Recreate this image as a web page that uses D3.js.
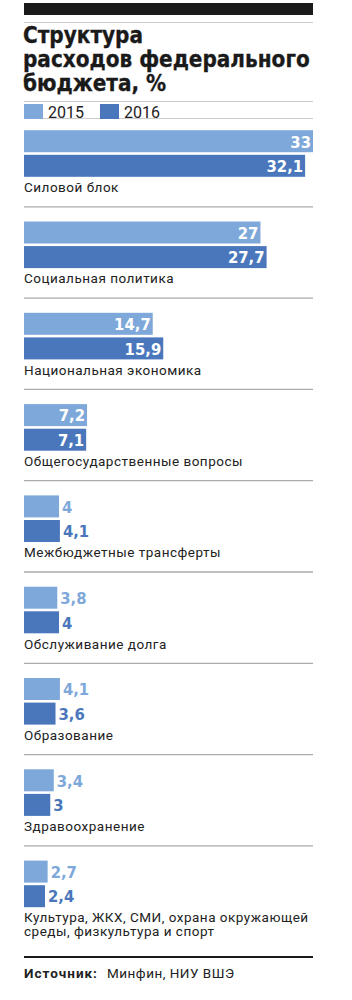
<!DOCTYPE html>
<html>
<head>
<meta charset="utf-8">
<script src="https://cdn.jsdelivr.net/npm/d3@7"></script>
<style>
  body { margin: 0; background: #fff; }
  svg { display: block; }
</style>
</head>
<body>
<script>
// данные
var categories = [
  ["Силовой блок"],
  ["Социальная политика"],
  ["Национальная экономика"],
  ["Общегосударственные вопросы"],
  ["Межбюджетные трансферты"],
  ["Обслуживание долга"],
  ["Образование"],
  ["Здравоохранение"],
  ["Культура, ЖКХ, СМИ, охрана окружающей", "среды, физкультура и спорт"]
];
var values2015 = [33, 27, 14.7, 7.2, 4, 3.8, 4.1, 3.4, 2.7];
var values2016 = [32.1, 27.7, 15.9, 7.1, 4.1, 4, 3.6, 3, 2.4];
var years = ["2015", "2016"];

var W = 352, H = 1000;
var left = 24, right = 313;
var light = "#7ea8da", dark = "#4a77bc";

var svg = d3.select("body").append("svg")
  .attr("width", W).attr("height", H);

// шапка
svg.append("rect").attr("x", left).attr("y", 3).attr("width", right - left).attr("height", 12).attr("fill", "#1a1a1a");
svg.append("line").attr("x1", left).attr("x2", right).attr("y1", 22.5).attr("y2", 22.5)
  .attr("stroke", "#ccc").attr("stroke-width", 1);

var titleLines = ["Структура", "расходов федерального", "бюджета, %"];
svg.selectAll(".title").data(titleLines).enter().append("text")
  .attr("class", "title")
  .attr("x", left - 1)
  .attr("y", function (d, i) { return 43 + i * 24.2; })
  .attr("font-family", "DejaVu Sans Condensed, DejaVu Sans")
  .attr("font-stretch", "condensed")
  .attr("font-weight", "bold")
  .attr("font-size", 22.3)
  .attr("fill", "#1a1a1a")
  .attr("stroke", "#1a1a1a").attr("stroke-width", 0.3)
  .text(function (d) { return d; });

svg.append("line").attr("x1", left).attr("x2", right).attr("y1", 101.5).attr("y2", 101.5)
  .attr("stroke", "#ccc").attr("stroke-width", 1);

// линия под легендой
svg.append("line").attr("x1", left).attr("x2", right).attr("y1", 118.5).attr("y2", 118.5)
  .attr("stroke", "#ccc").attr("stroke-width", 1);

// легенда
var legend = svg.selectAll(".leg").data(years).enter().append("g")
  .attr("transform", function (d, i) { return "translate(" + (left + i * 76) + ",0)"; });
legend.append("rect").attr("y", 104).attr("width", 19).attr("height", 15)
  .attr("fill", function (d, i) { return i ? dark : light; });
legend.append("text").attr("x", 24).attr("y", 117.5)
  .attr("font-family", "Roboto").attr("font-size", 16).attr("fill", "#222")
  .text(function (d) { return d; });

var x = d3.scaleLinear().domain([0, 33]).range([left, right]);
var step = 91.3, top0 = 115.5;

var g = svg.selectAll(".grp").data(categories).enter().append("g")
  .attr("transform", function (d, i) { return "translate(0," + (top0 + i * step) + ")"; });

// разделители между группами
g.filter(function (d, i) { return i > 0; }).append("line")
  .attr("x1", left).attr("x2", right).attr("y1", 0).attr("y2", 0)
  .attr("stroke", "#aaa").attr("stroke-width", 1.3);

[values2015, values2016].forEach(function (vals, k) {
  var y0 = 14.7 + k * 24.6, bh = 22;
  g.append("rect")
    .attr("x", left)
    .attr("y", y0)
    .attr("width", function (d, i) { return x(vals[i]) - left; })
    .attr("height", bh)
    .attr("fill", k ? dark : light);
  g.append("text")
    .attr("x", function (d, i) { return vals[i] >= 7 ? x(vals[i]) - 2 : x(vals[i]) + 3; })
    .attr("y", y0 + 17.3)
    .attr("text-anchor", function (d, i) { return vals[i] >= 7 ? "end" : "start"; })
    .attr("font-family", "DejaVu Sans Condensed, DejaVu Sans")
    .attr("font-stretch", "condensed")
    .attr("font-weight", "bold")
    .attr("font-size", 16.5)
    .attr("fill", function (d, i) { return vals[i] >= 7 ? "#fff" : (k ? dark : light); })
    .text(function (d, i) { return String(vals[i]).replace(".", ","); });
});

g.each(function (d) {
  var t = d3.select(this).append("text")
    .attr("font-family", "Roboto").attr("font-size", 13.5).attr("fill", "#222")
    .attr("letter-spacing", 0.5);
  t.selectAll("tspan").data(d).enter().append("tspan")
    .attr("x", left)
    .attr("y", function (s, j) { return 76.5 + j * 14; })
    .text(function (s) { return s; });
});

// источник
svg.append("line").attr("x1", left).attr("x2", right).attr("y1", 957).attr("y2", 957)
  .attr("stroke", "#1a1a1a").attr("stroke-width", 2);
var src = svg.append("text").attr("x", left).attr("y", 978)
  .attr("font-family", "Roboto").attr("font-size", 13.5).attr("fill", "#222").attr("letter-spacing", 0.5);
src.append("tspan").attr("font-weight", "bold").attr("letter-spacing", 1).text("Источник:");
src.append("tspan").attr("x", 107).text("Минфин, НИУ ВШЭ");
</script>
</body>
</html>
